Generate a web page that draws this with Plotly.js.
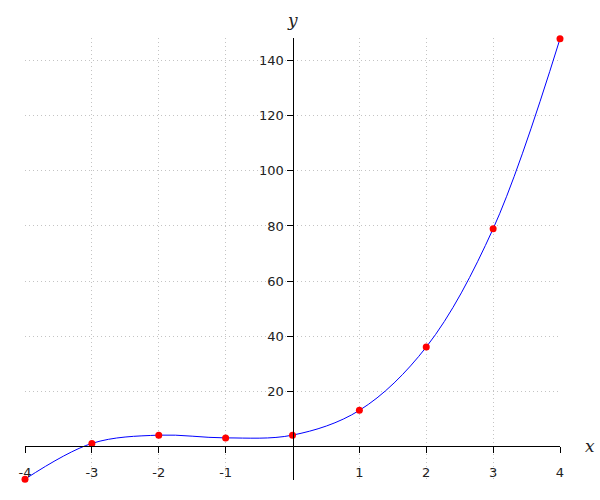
<!DOCTYPE html>
<html><head><meta charset="utf-8">
<script src="https://cdn.plot.ly/plotly-3.0.1.min.js"></script>
<style>body{margin:0}#c{width:600px;height:500px}</style>
</head><body><div id="c"></div>
<script>
const xs = [-4, -3, -2, -1, 0, 1, 2, 3, 4];
const ys = [-12, 1, 4, 3, 4, 13, 36, 79, 148];
const xTicks = [-4, -3, -2, -1, 1, 2, 3, 4];
const yTicks = [20, 40, 60, 80, 100, 120, 140];
const yMin = -12.3, yMax = 148.3;

const traces = [
  {x: xs, y: ys, mode: 'lines', line: {color: '#0000ff', width: 1, shape: 'spline', smoothing: 1}, cliponaxis: false, hoverinfo: 'skip'},
  {x: xs, y: ys, mode: 'markers', marker: {color: '#ff0000', size: 7}, cliponaxis: false}
];
const layout = {
  width: 600, height: 500, showlegend: false,
  paper_bgcolor: '#fff', plot_bgcolor: '#fff',
  margin: {l: 25, r: 40, t: 38, b: 20},
  font: {family: 'DejaVu Sans', size: 13, color: '#222'},
  xaxis: {range: [-4, 4], anchor: 'free', position: (0 - yMin) / (yMax - yMin),
    tickvals: xTicks, ticktext: xTicks.map(String), ticks: 'outside', ticklen: 6, tickcolor: '#000',
    showline: true, linecolor: '#000', linewidth: 1, zeroline: false,
    showgrid: true, gridcolor: '#c4c4c4', griddash: '1px,3px', gridwidth: 1, ticklabelstandoff: 8},
  yaxis: {range: [yMin, yMax], anchor: 'free', position: 0.5,
    tickvals: yTicks, ticktext: yTicks.map(String), ticks: 'outside', ticklen: 6, tickcolor: '#000',
    showline: true, linecolor: '#000', linewidth: 1, zeroline: false,
    showgrid: true, gridcolor: '#c4c4c4', griddash: '1px,3px', gridwidth: 1},
  annotations: [
    {text: 'x', xref: 'paper', yref: 'paper', xanchor: 'center', yanchor: 'middle', showarrow: false,
     font: {family: 'DejaVu Serif', size: 17, color: '#222', style: 'italic'}},
    {text: 'y', xref: 'paper', yref: 'paper', xanchor: 'center', yanchor: 'middle', showarrow: false,
     font: {family: 'DejaVu Serif', size: 17, color: '#222', style: 'italic'}}
  ]
};
const pw = 600 - 25 - 40, ph = 500 - 38 - 20;
layout.annotations[0].x = (590 - 25) / pw; layout.annotations[0].y = 1 - (446 - 38) / ph;
layout.annotations[1].x = (292 - 25) / pw; layout.annotations[1].y = 1 - (20 - 38) / ph;
Plotly.newPlot('c', traces, layout, {displayModeBar: false});
</script></body></html>
